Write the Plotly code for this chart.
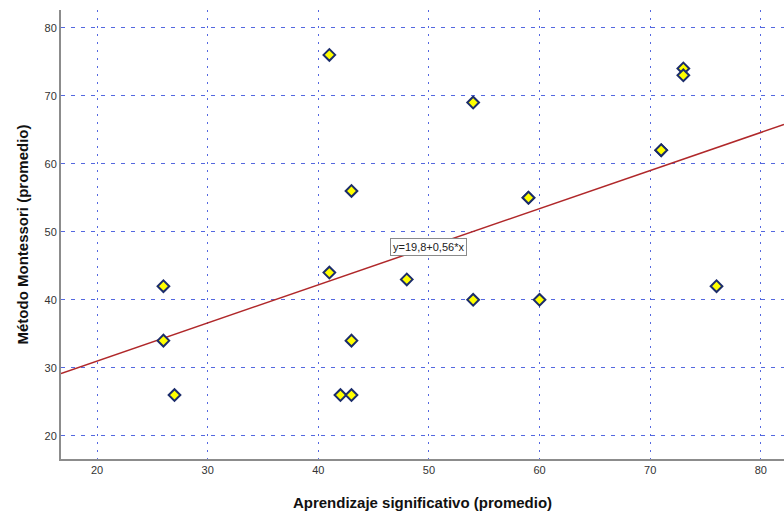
import plotly.graph_objects as go

x_vals = [41, 54, 73, 73, 71, 71, 59, 59, 43, 41, 48, 26, 54, 60, 76, 26, 43, 27, 42, 43]
y_vals = [76, 69, 74, 73, 62, 62, 55, 55, 56, 44, 43, 42, 40, 40, 42, 34, 34, 26, 26, 26]
intercept = 19.8
slope = 0.56
x_range = [16.74, 82.1]
y_range = [16.6, 82.6]
tick_vals = [20, 30, 40, 50, 60, 70, 80]
fit_label = "y=19,8+0,56*x"

fig = go.Figure()
fig.add_trace(go.Scatter(
    x=x_range, y=[intercept + slope * v for v in x_range],
    mode="lines", line=dict(color="#b0282a", width=1.5), hoverinfo="skip"))
fig.add_trace(go.Scatter(
    x=x_vals, y=y_vals, mode="markers",
    marker=dict(symbol="diamond", size=9, color="#ffff00",
                line=dict(color="#1c2d6b", width=2))))

fig.add_annotation(x=50, y=47.8, text=fit_label, showarrow=False,
                   bordercolor="#8a8a8a", borderwidth=1, bgcolor="white",
                   borderpad=2, font=dict(family="Liberation Sans", size=11, color="#222"))

axis_common = dict(showline=True, linecolor="#8c8c8c", linewidth=2, mirror=False,
                   gridcolor="#5468e0", gridwidth=1, zeroline=False, ticks="",
                   tickfont=dict(family="Liberation Sans", size=11, color="#333"),
                   tickvals=tick_vals)

fig.update_xaxes(range=x_range, griddash="2px,6px",
                 title=dict(text="<b>Aprendizaje significativo (promedio)</b>",
                            font=dict(family="Liberation Sans", size=15, color="#111"),
                            standoff=22),
                 **axis_common)
fig.update_yaxes(range=y_range, griddash="4px,6px",
                 title=dict(text="<b>Método Montessori (promedio)</b>",
                            font=dict(family="Liberation Sans", size=15, color="#111"),
                            standoff=12),
                 **axis_common)

fig.update_layout(width=784, height=513, showlegend=False,
                  margin=dict(l=61, r=0, t=10, b=54),
                  plot_bgcolor="white", paper_bgcolor="white")

fig.write_html("out.html", config={"displayModeBar": False},
               post_script="document.body.style.margin='0';document.body.style.overflow='hidden';")
